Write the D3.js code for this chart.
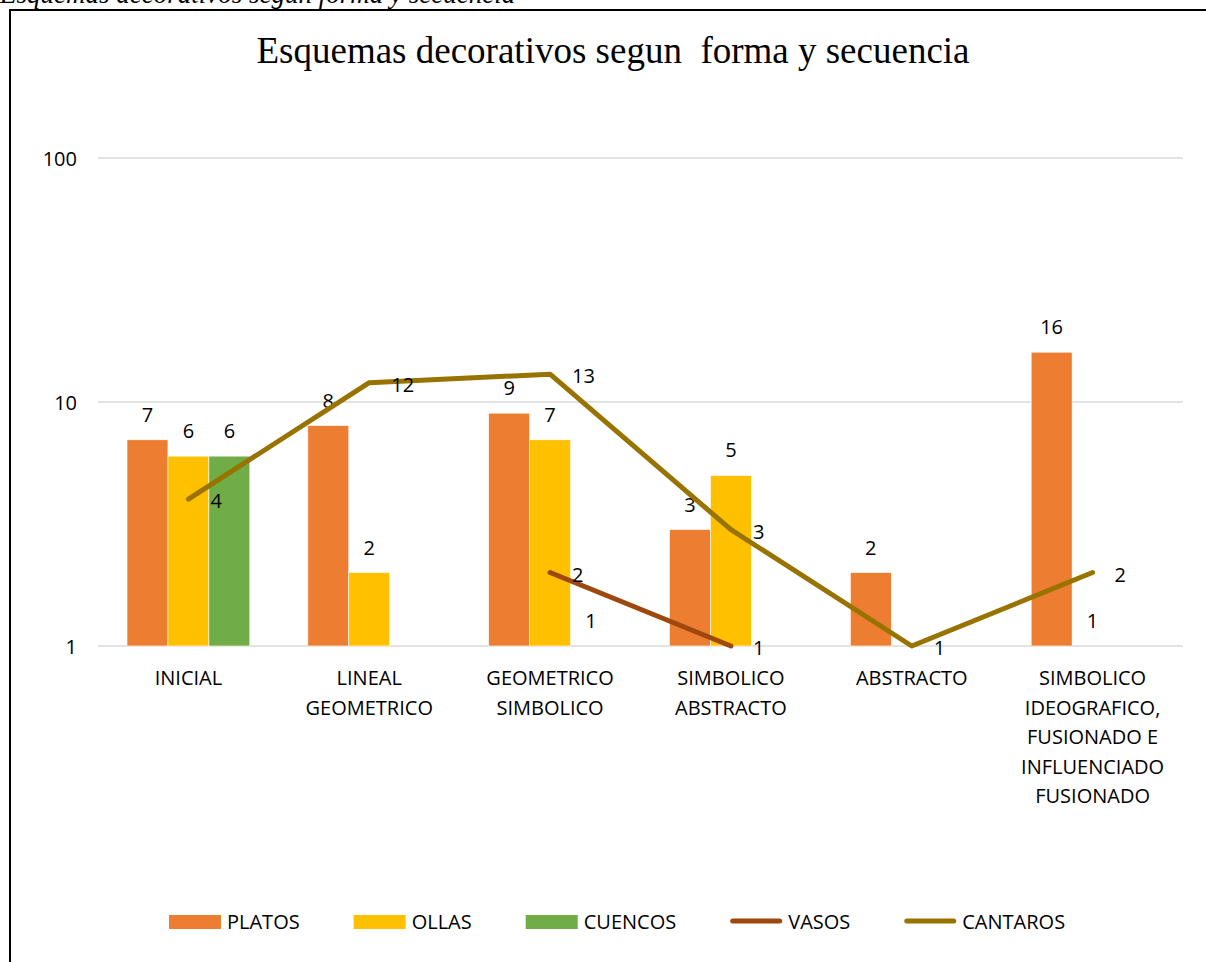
<!DOCTYPE html>
<html>
<head>
<meta charset="utf-8">
<script src="https://cdn.jsdelivr.net/npm/d3@7"></script>
<style>
  html, body { margin: 0; padding: 0; background: #fff; }
  svg { display: block; }
</style>
</head>
<body>
<svg id="chart" width="1206" height="962"></svg>
<script>
// Categories (line breaks mark how each axis label wraps)
const categories = [
  "INICIAL",
  "LINEAL\nGEOMETRICO",
  "GEOMETRICO\nSIMBOLICO",
  "SIMBOLICO\nABSTRACTO",
  "ABSTRACTO",
  "SIMBOLICO\nIDEOGRAFICO,\nFUSIONADO E\nINFLUENCIADO\nFUSIONADO"
];

// Bar series
const platos  = [7, 8, 9, 3, 2, 16];
const ollas   = [6, 2, 7, 5, null, 1];
const cuencos = [6, null, 1, null, null, null];

// Line series
const vasos    = [null, null, 2, 1, null, null];
const cantaros = [4, 12, 13, 3, 1, 2];

// Log-axis ticks
const yTicks = [1, 10, 100];

const barSeries = [
  { name: "PLATOS",  values: platos,  color: "#ED7D31" },
  { name: "OLLAS",   values: ollas,   color: "#FFC000" },
  { name: "CUENCOS", values: cuencos, color: "#70AD47" }
];
const lineSeries = [
  { name: "VASOS",    values: vasos,    color: "#9E480E" },
  { name: "CANTAROS", values: cantaros, color: "#997300" }
];

const svg = d3.select("#chart");
const labelFont = "'Open Sans', 'DejaVu Sans', sans-serif";

// Caption above the chart frame
svg.append("text")
  .attr("x", 0).attr("y", 3)
  .attr("font-family", "'Liberation Serif', 'Times New Roman', serif")
  .attr("font-style", "italic")
  .attr("font-size", 27)
  .attr("fill", "#000")
  .text("Esquemas decorativos segun forma y secuencia");

// Chart frame
svg.append("rect")
  .attr("x", 10).attr("y", 10)
  .attr("width", 1210).attr("height", 1000)
  .attr("fill", "none").attr("stroke", "#000").attr("stroke-width", 2);

// Title
svg.append("text")
  .attr("x", 613).attr("y", 63)
  .attr("text-anchor", "middle")
  .attr("font-family", "'Liberation Serif', 'Times New Roman', serif")
  .attr("font-size", 37)
  .attr("fill", "#000")
  .style("white-space", "pre")
  .text("Esquemas decorativos segun  forma y secuencia");

const plot = { left: 98, right: 1183, top: 158, bottom: 646 };

const x = d3.scaleBand()
  .domain(categories)
  .range([plot.left, plot.right])
  .padding(0);

const xInner = d3.scaleBand()
  .domain(barSeries.map(s => s.name))
  .range([29, x.bandwidth() - 29])
  .padding(0);

const y = d3.scaleLog()
  .domain([1, 100])
  .range([plot.bottom, plot.top]);

// Gridlines
svg.append("g")
  .selectAll("line")
  .data(yTicks)
  .join("line")
  .attr("x1", plot.left).attr("x2", plot.right)
  .attr("y1", d => y(d)).attr("y2", d => y(d))
  .attr("stroke", "#d9d9d9").attr("stroke-width", 1.5);

// Y axis labels
const yAxis = d3.axisLeft(y).tickValues(yTicks).tickFormat(d3.format("d")).tickSize(0).tickPadding(0);
const yg = svg.append("g").attr("transform", "translate(77,0)").call(yAxis);
yg.select(".domain").remove();
yg.selectAll("text")
  .attr("font-family", labelFont).attr("font-size", 20).attr("fill", "#000")
  .attr("dy", "0.36em");

// X axis labels (multi-line)
const xg = svg.append("g");
categories.forEach(c => {
  const t = xg.append("text")
    .attr("x", x(c) + x.bandwidth() / 2)
    .attr("y", 685)
    .attr("text-anchor", "middle")
    .attr("font-family", labelFont).attr("font-size", 20).attr("fill", "#000");
  c.split("\n").forEach((line, i) => {
    t.append("tspan")
      .attr("x", x(c) + x.bandwidth() / 2)
      .attr("dy", i === 0 ? 0 : 29.5)
      .text(line);
  });
});

// Bars and their labels
barSeries.forEach(s => {
  const pts = categories.map((c, i) => ({ c, v: s.values[i] })).filter(d => d.v != null);
  svg.append("g")
    .selectAll("rect")
    .data(pts)
    .join("rect")
    .attr("x", d => x(d.c) + xInner(s.name))
    .attr("width", xInner.bandwidth())
    .attr("y", d => y(d.v))
    .attr("height", d => y(1) - y(d.v))
    .attr("fill", s.color)
    .attr("stroke", "#fff").attr("stroke-width", 0.6);
  svg.append("g")
    .selectAll("text")
    .data(pts)
    .join("text")
    .attr("x", d => x(d.c) + xInner(s.name) + xInner.bandwidth() / 2)
    .attr("y", d => y(d.v) - 18)
    .attr("text-anchor", "middle")
    .attr("font-family", labelFont).attr("font-size", 20).attr("fill", "#000")
    .text(d => d.v);
});

// Lines and their labels
lineSeries.forEach(s => {
  const pts = categories.map((c, i) => ({ c, v: s.values[i] })).filter(d => d.v != null);
  const line = d3.line()
    .x(d => x(d.c) + x.bandwidth() / 2)
    .y(d => y(d.v));
  svg.append("path")
    .datum(pts)
    .attr("d", line)
    .attr("fill", "none")
    .attr("stroke", s.color)
    .attr("stroke-width", 5)
    .attr("stroke-linecap", "round")
    .attr("stroke-linejoin", "round");
  svg.append("g")
    .selectAll("text")
    .data(pts)
    .join("text")
    .attr("x", d => x(d.c) + x.bandwidth() / 2 + 22)
    .attr("y", d => y(d.v) + 9)
    .attr("font-family", labelFont).attr("font-size", 20).attr("fill", "#000")
    .text(d => d.v);
});

// Legend
const legendItems = barSeries.map(s => ({ ...s, kind: "bar" }))
  .concat(lineSeries.map(s => ({ ...s, kind: "line" })));
const lg = svg.append("g");
let lx = 169;
const ly = 922;
legendItems.forEach(item => {
  if (item.kind === "bar") {
    lg.append("rect")
      .attr("x", lx).attr("y", ly - 7)
      .attr("width", 52).attr("height", 14)
      .attr("fill", item.color);
  } else {
    lg.append("line")
      .attr("x1", lx + 2.5).attr("x2", lx + 52 - 2.5)
      .attr("y1", ly - 1).attr("y2", ly - 1)
      .attr("stroke", item.color).attr("stroke-width", 5)
      .attr("stroke-linecap", "round");
  }
  const t = lg.append("text")
    .attr("x", lx + 58).attr("y", ly + 7)
    .attr("font-family", labelFont).attr("font-size", 20).attr("fill", "#000")
    .text(item.name);
  const w = t.node().getComputedTextLength();
  lx += 58 + w + 54;
});
</script>
</body>
</html>
